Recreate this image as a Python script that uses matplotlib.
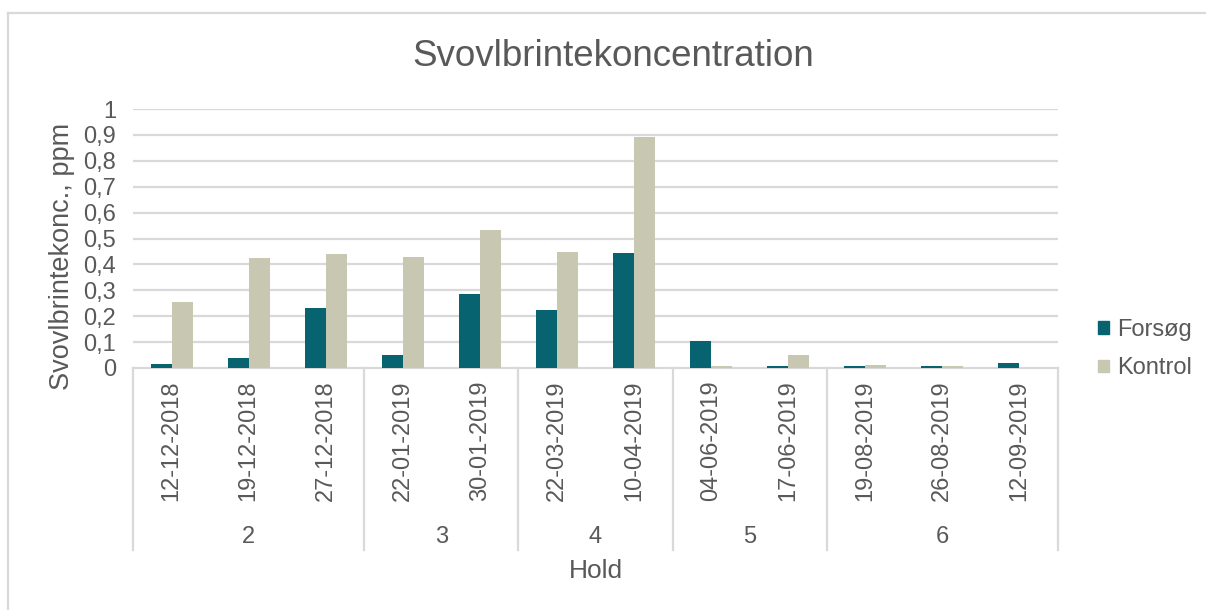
import matplotlib.pyplot as plt
from matplotlib.lines import Line2D
from matplotlib.patches import Patch
import matplotlib.transforms as mtrans
import numpy as np

plt.rcParams['font.family'] = ['Liberation Sans', 'DejaVu Sans']

# data
dates = ['12-12-2018', '19-12-2018', '27-12-2018', '22-01-2019', '30-01-2019',
         '22-03-2019', '10-04-2019', '04-06-2019', '17-06-2019', '19-08-2019',
         '26-08-2019', '12-09-2019']
hold = ['2', '2', '2', '3', '3', '4', '4', '5', '5', '6', '6', '6']
forsog = [0.015, 0.04, 0.23, 0.05, 0.285, 0.225, 0.445, 0.105, 0.007, 0.007, 0.007, 0.02]
kontrol = [0.255, 0.423, 0.44, 0.43, 0.533, 0.448, 0.892, 0.006, 0.05, 0.01, 0.006, 0.0]
yticks = [0, 0.1, 0.2, 0.3, 0.4, 0.5, 0.6, 0.7, 0.8, 0.9, 1]

c_fors = '#086370'
c_kont = '#c8c8b2'
grid_c = '#d9d9d9'
txt_c = '#595959'
fs = 17

W, H = 1206, 610
fig = plt.figure(figsize=(W / 100, H / 100), dpi=100)
x0, x1, y0, y1 = 133, 1058, 368, 109
ax = fig.add_axes([x0 / W, 1 - y0 / H, (x1 - x0) / W, (y0 - y1) / H])

x = np.arange(len(dates))
bw = 0.272
ax.bar(x - bw / 2, forsog, bw, color=c_fors, zorder=3)
ax.bar(x + bw / 2, kontrol, bw, color=c_kont, zorder=3)

ax.set_xlim(-0.5, len(dates) - 0.5)
ax.set_ylim(0, 1)
ax.set_yticks(yticks)
ax.set_yticklabels([('%g' % v).replace('.', ',') for v in yticks])
for v in yticks[1:]:
    ax.axhline(v, color=grid_c, lw=1.6, zorder=1)

for s in ax.spines.values():
    s.set_visible(False)
ax.axhline(0, color=grid_c, lw=1.6, zorder=2, clip_on=False)

ax.set_xticks(x)
ax.set_xticklabels(dates, rotation=90, va='top', ha='center')
ax.tick_params(axis='x', length=0, pad=9, labelsize=fs, labelcolor=txt_c)
ax.tick_params(axis='y', length=0, pad=12, labelsize=fs, labelcolor=txt_c)

# multi level category axis
trans = mtrans.blended_transform_factory(ax.transData, ax.transAxes)
bottom = -(550 - y0) / (y0 - y1)
groups = []
for i, h in enumerate(hold):
    if not groups or groups[-1][0] != h:
        groups.append([h, i, i])
    else:
        groups[-1][2] = i
for h, a, b in groups:
    ax.plot([a - 0.5, a - 0.5], [0, bottom], color=grid_c, lw=1.6,
            transform=trans, clip_on=False)
    ax.text((a + b) / 2, -(537 - y0) / (y0 - y1), h, transform=trans,
            ha='center', va='center', fontsize=fs, color=txt_c)
ax.plot([len(dates) - 0.5] * 2, [0, bottom], color=grid_c, lw=1.6,
        transform=trans, clip_on=False)

fig.text(613 / W, 1 - 56 / H, 'Svovlbrintekoncentration', ha='center', va='center',
         fontsize=26.5, color=txt_c)
fig.text(62 / W, 1 - 256 / H, 'Svovlbrintekonc., ppm', rotation=90, ha='center',
         va='center', fontsize=19.5, color=txt_c)
fig.text(596 / W, 1 - 571 / H, 'Hold', ha='center', va='center', fontsize=19, color=txt_c)

handles = [Patch(color=c_fors), Patch(color=c_kont)]
fig.legend(handles, ['Forsøg', 'Kontrol'], loc='center left',
           bbox_to_anchor=(1077 / W, 1 - 349 / H), frameon=False, fontsize=fs,
           handlelength=0.45, handleheight=0.45, handletextpad=0.35,
           labelspacing=0.7, labelcolor=txt_c)

# outer chart border
fig.add_artist(Line2D([8 / W, 8 / W], [0, 1 - 13 / H], color=grid_c, lw=1.6))
fig.add_artist(Line2D([8 / W, 1], [1 - 13 / H, 1 - 13 / H], color=grid_c, lw=1.6))

fig.savefig('out.png', dpi=100)
